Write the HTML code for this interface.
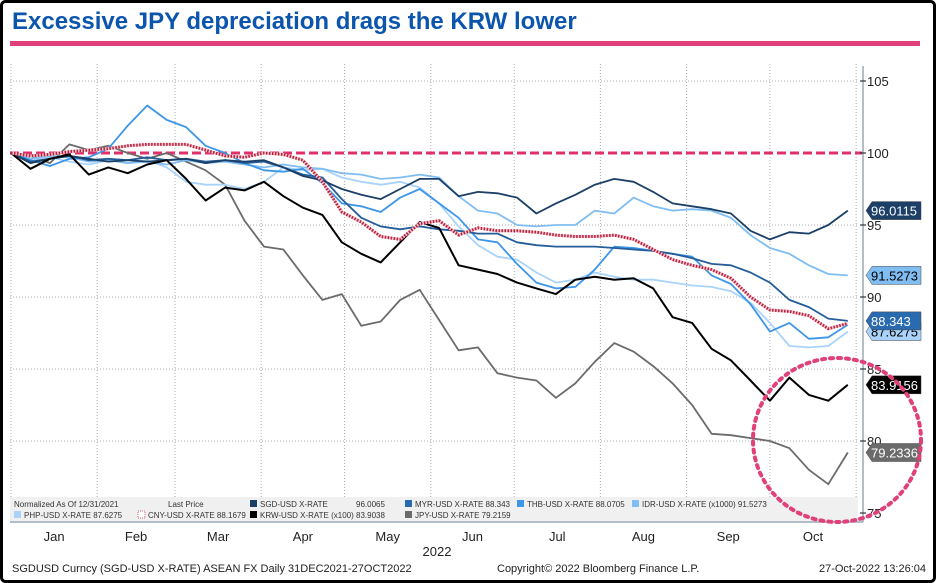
<!DOCTYPE html>
<html><head><meta charset="utf-8">
<style>
body{margin:0;background:#fff;}
#wrap{position:relative;width:937px;height:583px;overflow:hidden;font-family:"Liberation Sans",sans-serif;}
svg text{font-family:"Liberation Sans",sans-serif;}
</style></head>
<body>
<div id="wrap">
<svg id="chart" width="937" height="583">
<rect x="1.5" y="1.5" width="933" height="580" rx="4" fill="#fff" stroke="#000" stroke-width="3"/>
<text x="12" y="29" font-size="24" font-weight="bold" fill="#0b55ad">Excessive JPY depreciation drags the KRW lower</text>
<rect x="10" y="41" width="910" height="5" fill="#e0417a"/>
<g id="grid"></g>
<g id="series"></g>
<g id="axis"></g>
<g id="legend"></g>
<g id="xaxis"></g>
<ellipse cx="837" cy="440" rx="84" ry="82" fill="none" stroke="#e0417a" stroke-width="4" stroke-dasharray="3 5" stroke-linecap="round"/>
<text x="12" y="572" font-size="11" fill="#222">SGDUSD Curncy (SGD-USD X-RATE) ASEAN FX  Daily 31DEC2021-27OCT2022</text>
<text x="497" y="572" font-size="11" fill="#222">Copyright© 2022 Bloomberg Finance L.P.</text>
<text x="926" y="572" font-size="11" fill="#222" text-anchor="end">27-Oct-2022 13:26:04</text>
</svg>
</div>
<script>
const days=[0,7,14,21,28,35,42,49,56,63,70,77,84,91,98,105,112,119,126,133,140,147,154,161,168,175,182,189,196,203,210,217,224,231,238,245,252,259,266,273,280,287,294,301];
const jpy=[100,99.8,99.3,100.6,100.2,100.5,100.0,99.6,100.0,99.4,98.8,97.8,95.3,93.5,93.3,91.5,89.8,90.2,88.0,88.3,89.8,90.5,88.4,86.3,86.5,84.7,84.4,84.2,83.0,84.0,85.5,86.8,86.2,85.2,84.0,82.5,80.5,80.4,80.2,80.0,79.5,78.0,77.0,79.2];
const krw=[100,98.9,99.6,99.9,98.5,99.0,98.6,99.2,99.5,98.2,96.7,97.6,97.4,98.0,97.0,96.2,95.7,93.8,93.0,92.4,93.8,95.2,94.8,92.2,91.9,91.6,91.0,90.6,90.2,91.2,91.4,91.2,91.3,90.6,88.6,88.2,86.4,85.6,84.2,82.8,84.4,83.2,82.8,83.9];
const sgd=[100,99.3,99.6,99.8,99.6,99.4,99.5,99.4,99.5,99.6,99.3,99.5,99.4,99.5,99.0,98.4,98.1,97.5,97.1,96.8,97.5,98.2,98.2,97.0,97.3,97.2,96.9,95.8,96.5,97.1,97.8,98.2,98.0,97.3,96.5,96.3,96.1,95.8,94.6,94.0,94.5,94.4,95.0,96.0];
const idr=[100,99.6,99.8,99.7,99.4,99.5,99.3,99.4,99.2,99.5,99.3,99.4,99.2,99.0,99.2,99.0,98.9,98.6,98.5,98.2,98.3,98.5,98.3,97.0,96.0,95.8,95.0,94.9,95.0,95.0,96.0,95.8,96.9,96.3,96.0,96.1,96.0,95.5,94.3,93.4,93.0,92.2,91.6,91.5];
const thb=[100,99.5,99.1,99.6,99.7,100.3,101.9,103.3,102.3,101.8,100.5,100.0,99.3,98.8,98.7,98.9,97.9,96.5,96.3,95.9,96.9,97.5,96.5,95.5,94.0,93.8,92.3,91.0,90.6,90.7,91.9,93.5,93.4,93.2,93.0,92.8,91.5,90.9,89.5,87.6,88.2,87.1,87.2,88.07];
const myr=[100,99.4,99.6,99.8,99.5,99.6,99.5,99.7,99.5,99.6,99.4,99.5,99.3,99.4,99.0,98.5,98.3,96.8,95.5,94.9,94.7,94.9,94.7,94.6,94.4,94.4,93.8,93.6,93.5,93.5,93.5,93.4,93.3,93.2,93.0,92.7,92.3,92.2,91.7,91.0,89.8,89.3,88.5,88.34];
const php=[100,99.5,99.7,99.4,99.2,99.5,99.3,99.5,99.0,98.0,97.8,97.8,97.5,98.0,99.0,98.8,98.9,98.3,98.0,97.8,98.0,97.6,96.5,94.9,93.6,92.8,92.6,91.7,91.0,91.2,91.7,91.4,91.2,91.2,91.0,90.8,90.7,90.4,89.6,88.2,86.6,86.5,86.6,87.6];
const cny=[100,99.8,99.9,100.1,100.2,100.3,100.5,100.6,100.6,100.6,100.2,99.8,99.7,100.0,99.9,99.5,98.0,95.9,95.2,94.2,94.0,95.1,95.3,94.3,94.8,94.6,94.6,94.5,94.3,94.2,94.2,94.3,94.0,93.3,92.6,92.2,91.9,91.3,90.0,89.1,89.0,88.7,87.8,88.17];
const yTicks=[75,80,85,90,95,100,105];
const months=["Jan","Feb","Mar","Apr","May","Jun","Jul","Aug","Sep","Oct"];
const monthStart=[0,31,59,90,120,151,181,212,243,273,304];
const lastLabels=["96.0115","91.5273","88.343","87.6275","83.9156","79.2336"];

const X=d=>11+d*(845-11)/300;
const Y=v=>153-(v-100)*14.4;
const NS="http://www.w3.org/2000/svg";
function mk(tag,attrs,parent){const e=document.createElementNS(NS,tag);for(const k in attrs)e.setAttribute(k,attrs[k]);parent.appendChild(e);return e;}
const grid=document.getElementById('grid'),ser=document.getElementById('series'),ax=document.getElementById('axis'),lg=document.getElementById('legend'),xa=document.getElementById('xaxis');

monthStart.forEach((d,i)=>{const l=mk('line',{x1:X(d),x2:X(d),y1:64,y2:522,stroke:'#aaa','stroke-width':1,'stroke-dasharray':'1 2'},grid);

});
yTicks.forEach(v=>{if(v===100||v===75)return;const l=mk('line',{x1:10,x2:858,y1:Y(v),y2:Y(v),stroke:'#aaa','stroke-width':1,'stroke-dasharray':'1 2'},grid);

});
const bl=mk('line',{x1:10,x2:862,y1:Y(100),y2:Y(100),stroke:'#e0306a','stroke-width':3,'stroke-dasharray':'9 4'},grid);



function line(vals,color,w,name,dash){
  const pts=vals.map((v,i)=>X(days[i]).toFixed(1)+','+Y(v).toFixed(1)).join(' ');
  const p=mk('polyline',{points:pts,fill:'none',stroke:color,'stroke-width':w,'stroke-linejoin':'round'},ser);
  if(dash)p.setAttribute('stroke-dasharray',dash);
  
  
  return p;
}
line(jpy,'#6b6b6b',1.8,'jpy-line');
line(php,'#a9d3fa',1.8,'php-line');
line(idr,'#80bdf2',1.8,'idr-line');
line(thb,'#3d96e8',1.8,'thb-line');
line(myr,'#255d99',1.8,'myr-line');
line(sgd,'#1b3f66',1.8,'sgd-line');
line(krw,'#000',2,'krw-line');
line(cny,'#f5c6cf',3,'cny-line-bg');
line(cny,'#b8203c',3,'cny-line','1.5 1.5');

const al=mk('line',{x1:863,x2:863,y1:66,y2:522,stroke:'#9aa8b8','stroke-width':1.5},ax);


yTicks.forEach(v=>{const t=mk('line',{x1:860,x2:866,y1:Y(v),y2:Y(v),stroke:'#333','stroke-width':1.2},ax);


const tx=mk('text',{x:867,y:Y(v)+5,'font-size':13,fill:'#222'},ax);tx.textContent=v;

});
const lv=[[sgd[43],'#1b3f66','#fff',lastLabels[0]],[idr[43],'#80bdf2','#000',lastLabels[1]],[php[43],'#a9d3fa','#000',lastLabels[3]],[myr[43],'#2a6bb0','#fff',lastLabels[2]],[krw[43],'#000','#fff',lastLabels[4]],[jpy[43],'#6b6b6b','#fff',lastLabels[5]]];
lv.forEach(([v,bg,fg,txt])=>{const y=Y(v);
 const p=mk('polygon',{points:`866,${y} 872,${y-9} 921,${y-9} 921,${y+9} 872,${y+9}`,fill:bg,stroke:'#444','stroke-width':0.5},ax);
 
 
 const t=mk('text',{x:871,y:y+5,'font-size':13,fill:fg},ax);t.textContent=txt;
 
 });

const lb=mk('rect',{x:10,y:497,width:848,height:24,fill:'#f0f0f0'},lg);


const items=[
 [14,507,null,'Normalized As Of 12/31/2021'],[168,507,null,'Last Price'],[250,507,'#1b3f66','SGD-USD X-RATE'],[356,507,null,'96.0065'],
 [405,507,'#2a6bb0','MYR-USD X-RATE 88.343'],[517,507,'#3d96e8','THB-USD X-RATE 88.0705'],[632,507,'#80bdf2','IDR-USD X-RATE (x1000) 91.5273'],
 [14,518,'#a9d3fa','PHP-USD X-RATE 87.6275'],[138,518,'cny','CNY-USD X-RATE 88.1679'],[250,518,'#000','KRW-USD X-RATE (x100) 83.9038'],[405,518,'#6b6b6b','JPY-USD X-RATE 79.2159']];
items.forEach(([x,y,c,txt])=>{let tx=x;
 if(c){const r=mk('rect',{x:x,y:y-7,width:7,height:7,fill:c==='cny'?'#fff':c,stroke:c==='cny'?'#d06070':'none','stroke-dasharray':c==='cny'?'1 1':'none'},lg);
 
 tx=x+10;}
 const t=mk('text',{x:tx,y:y,'font-size':8,fill:'#333'},lg);t.textContent=txt;
 
 });

const xl=mk('line',{x1:10,x2:863,y1:522,y2:522,stroke:'#9aa8b8','stroke-width':1.5},xa);


months.forEach((m,i)=>{const t=mk('text',{x:(X(monthStart[i])+X(monthStart[i+1]))/2,y:541,'font-size':13,fill:'#222','text-anchor':'middle'},xa);t.textContent=m;
 
 });
const yr=mk('text',{x:437,y:556,'font-size':13,fill:'#222','text-anchor':'middle'},xa);yr.textContent='2022';


</script>
</body></html>
